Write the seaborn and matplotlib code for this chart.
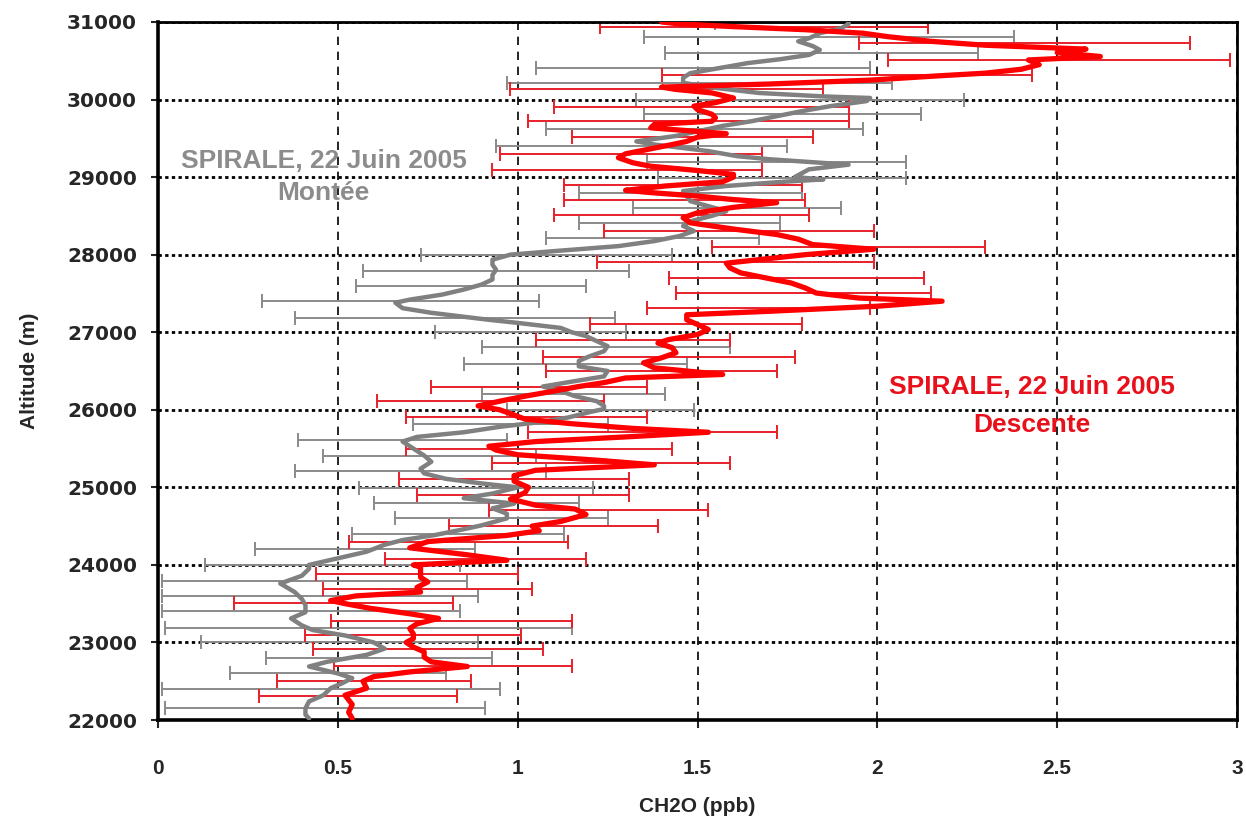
import matplotlib
matplotlib.use("Agg")
import matplotlib.pyplot as plt
from matplotlib import font_manager
import seaborn as sns
import numpy as np

# ascent profile (Montée), altitude in m, CH2O in ppb
gray_alt = [22020, 22070, 22150, 22240, 22320, 22410, 22470, 22540, 22600, 22690,
            22750, 22840, 22920, 23000, 23090, 23160, 23220, 23310, 23390, 23480,
            23560, 23650, 23760, 23860, 23950, 24000, 24085, 24170, 24260, 24320,
            24385, 24450, 24510, 24600, 24660, 24730, 24790, 24860, 24920, 25000,
            25050, 25110, 25180, 25240, 25330, 25410, 25500, 25590, 25650, 25710,
            25780, 25840, 25900, 25970, 26010, 26050, 26110, 26175, 26240, 26300,
            26370, 26430, 26500, 26560, 26630, 26690, 26755, 26820, 26885, 26950,
            27000, 27055, 27120, 27160, 27200, 27250, 27310, 27380, 27420, 27485,
            27550, 27615, 27680, 27740, 27805, 27870, 27935, 28000, 28045, 28110,
            28175, 28240, 28305, 28370, 28430, 28500, 28560, 28625, 28690, 28755,
            28820, 28885, 28940, 28970, 29000, 29100, 29160, 29230, 29270, 29335,
            29380, 29420, 29460, 29530, 29590, 29660, 29720, 29785, 29850, 29915,
            29980, 30020, 30040, 30085, 30150, 30215, 30280, 30340, 30405, 30470,
            30520, 30575, 30640, 30690, 30750, 30790, 30855, 30920, 30975, 31000]
gray_val = [0.42, 0.41, 0.41, 0.42, 0.46, 0.48, 0.51, 0.54, 0.50, 0.42,
            0.47, 0.58, 0.63, 0.60, 0.52, 0.43, 0.40, 0.37, 0.41, 0.41,
            0.40, 0.38, 0.34, 0.40, 0.42, 0.42, 0.50, 0.58, 0.63, 0.68,
            0.77, 0.84, 0.90, 0.97, 0.97, 0.93, 0.99, 0.85, 0.93, 1.00,
            0.90, 0.80, 0.74, 0.73, 0.76, 0.74, 0.71, 0.68, 0.72, 0.85,
            0.95, 1.06, 1.14, 1.20, 1.24, 1.24, 1.22, 1.16, 1.12, 1.07,
            1.16, 1.24, 1.25, 1.17, 1.17, 1.20, 1.24, 1.25, 1.22, 1.19,
            1.15, 1.12, 1.00, 0.92, 0.85, 0.76, 0.68, 0.66, 0.70, 0.79,
            0.85, 0.90, 0.93, 0.93, 0.94, 0.93, 0.93, 0.98, 1.10, 1.28,
            1.38, 1.45, 1.49, 1.46, 1.48, 1.54, 1.58, 1.53, 1.48, 1.47,
            1.46, 1.58, 1.74, 1.85, 1.77, 1.81, 1.92, 1.70, 1.61, 1.53,
            1.45, 1.38, 1.33, 1.44, 1.50, 1.57, 1.65, 1.72, 1.79, 1.87,
            1.97, 1.98, 1.85, 1.67, 1.55, 1.46, 1.46, 1.48, 1.56, 1.64,
            1.73, 1.81, 1.84, 1.82, 1.78, 1.81, 1.84, 1.90, 1.92, 1.92]

# descent profile (Descente)
red_alt = [22020, 22100, 22200, 22320, 22410, 22500, 22560, 22620, 22690, 22750,
           22810, 22880, 22940, 23000, 23050, 23110, 23180, 23240, 23310, 23370,
           23440, 23500, 23540, 23600, 23650, 23710, 23780, 23840, 23900, 23970,
           24000, 24060, 24130, 24220, 24300, 24380, 24440, 24500, 24560, 24650,
           24720, 24770, 24850, 24930, 25000, 25080, 25150, 25220, 25290, 25350,
           25420, 25480, 25530, 25590, 25650, 25710, 25760, 25820, 25880, 25950,
           26000, 26050, 26110, 26175, 26240, 26300, 26350, 26410, 26455, 26540,
           26605, 26670, 26735, 26800, 26860, 26905, 26970, 27035, 27100, 27160,
           27225, 27270, 27335, 27400, 27440, 27505, 27570, 27635, 27700, 27765,
           27830, 27890, 27935, 28000, 28070, 28130, 28200, 28260, 28330, 28370,
           28410, 28475, 28540, 28610, 28670, 28710, 28755, 28800, 28830, 28885,
           28940, 29000, 29035, 29085, 29140, 29185, 29250, 29300, 29355, 29420,
           29460, 29515, 29560, 29600, 29635, 29680, 29720, 29765, 29810, 29870,
           29915, 29960, 30020, 30085, 30130, 30160, 30200, 30250, 30300, 30340,
           30390, 30450, 30510, 30555, 30605, 30650, 30700, 30750, 30810, 30855,
           30900, 30940, 30975, 31000]
red_val = [0.54, 0.53, 0.54, 0.52, 0.58, 0.57, 0.60, 0.70, 0.86, 0.76,
           0.74, 0.74, 0.71, 0.69, 0.71, 0.71, 0.70, 0.72, 0.78, 0.70,
           0.59, 0.52, 0.48, 0.55, 0.73, 0.72, 0.75, 0.73, 0.73, 0.73,
           0.71, 0.97, 0.86, 0.70, 0.75, 0.97, 1.06, 1.04, 1.12, 1.19,
           1.16, 1.05, 0.98, 1.02, 1.03, 0.99, 0.99, 1.05, 1.38, 1.22,
           1.00, 0.94, 0.92, 1.05, 1.30, 1.53, 1.32, 1.15, 1.02, 0.98,
           0.95, 0.89, 0.95, 1.02, 1.10, 1.17, 1.24, 1.30, 1.57, 1.38,
           1.35, 1.40, 1.44, 1.43, 1.39, 1.42, 1.50, 1.53, 1.50, 1.47,
           1.47, 1.70, 2.00, 2.18, 1.95, 1.83, 1.80, 1.76, 1.69, 1.62,
           1.59, 1.58, 1.67, 1.80, 1.99, 1.82, 1.78, 1.72, 1.60, 1.54,
           1.48, 1.46, 1.50, 1.60, 1.72, 1.60, 1.50, 1.37, 1.30, 1.41,
           1.57, 1.60, 1.60, 1.50, 1.37, 1.32, 1.28, 1.30, 1.36, 1.43,
           1.47, 1.50, 1.58, 1.47, 1.37, 1.38, 1.54, 1.55, 1.54, 1.50,
           1.49, 1.55, 1.60, 1.54, 1.44, 1.40, 1.70, 1.98, 2.15, 2.30,
           2.40, 2.45, 2.42, 2.62, 2.50, 2.58, 2.30, 2.15, 2.03, 1.96,
           1.80, 1.60, 1.45, 1.40]

# error bars: altitude, left end, right end
gray_err_alt = [22160, 22400, 22600, 22800, 23000, 23190, 23400, 23600, 23790, 24000,
                24200, 24400, 24610, 24800, 24990, 25210, 25400, 25615, 25820, 26000,
                26200, 26585, 26810, 27000, 27185, 27400, 27600, 27785, 28000, 28210,
                28410, 28605, 28800, 28990, 29195, 29400, 29615, 29810, 30000, 30215,
                30405, 30600, 30810, 30985]
gray_err_lo = [0.02, 0.01, 0.20, 0.30, 0.12, 0.02, 0.01, 0.01, 0.01, 0.13,
               0.27, 0.54, 0.66, 0.60, 0.56, 0.38, 0.46, 0.39, 0.71, 0.97,
               0.90, 0.85, 0.90, 0.77, 0.38, 0.29, 0.55, 0.57, 0.73, 1.08,
               1.17, 1.32, 1.17, 1.39, 1.36, 0.94, 1.08, 1.35, 1.33, 0.97,
               1.05, 1.41, 1.35, 1.55]
gray_err_hi = [0.91, 0.95, 0.80, 0.93, 0.89, 1.15, 0.84, 0.89, 0.86, 0.84,
               0.88, 1.13, 1.25, 1.17, 1.21, 1.08, 1.05, 0.97, 1.25, 1.49,
               1.41, 1.47, 1.59, 1.30, 1.27, 1.06, 1.19, 1.31, 1.43, 1.67,
               1.73, 1.90, 1.79, 2.08, 2.08, 1.75, 1.96, 2.12, 2.24, 2.04,
               1.98, 2.28, 2.38, 2.14]

red_err_alt = [22315, 22500, 22690, 22910, 23090, 23280, 23510, 23690, 23880, 24080,
               24300, 24505, 24705, 24900, 25110, 25310, 25500, 25710, 25905, 26110,
               26300, 26500, 26680, 26900, 27100, 27310, 27505, 27700, 27905, 28100,
               28305, 28510, 28700, 28900, 29085, 29300, 29515, 29720, 29900, 30130,
               30310, 30505, 30725, 30940]
red_err_lo = [0.28, 0.33, 0.49, 0.43, 0.41, 0.48, 0.21, 0.46, 0.44, 0.63,
              0.53, 0.81, 0.92, 0.72, 0.67, 0.93, 0.69, 1.03, 0.69, 0.61,
              0.76, 1.08, 1.07, 1.05, 1.20, 1.36, 1.44, 1.42, 1.22, 1.54,
              1.24, 1.10, 1.13, 1.13, 0.93, 0.95, 1.15, 1.03, 1.10, 0.98,
              1.40, 2.03, 1.95, 1.23]
red_err_hi = [0.83, 0.87, 1.15, 1.07, 1.01, 1.15, 0.82, 1.04, 1.00, 1.19,
              1.14, 1.39, 1.53, 1.31, 1.31, 1.59, 1.43, 1.72, 1.36, 1.24,
              1.36, 1.72, 1.77, 1.59, 1.79, 1.98, 2.15, 2.13, 1.99, 2.30,
              1.99, 1.81, 1.80, 1.79, 1.68, 1.68, 1.82, 1.92, 1.92, 1.85,
              2.43, 2.98, 2.87, 2.14]

x_ticks = [0, 0.5, 1, 1.5, 2, 2.5, 3]
x_ticklabels = ["0", "0.5", "1", "1.5", "2", "2.5", "3"]
y_ticks = list(range(22000, 31001, 1000))

GRAY = "#808080"
RED = "#ff0000"

installed = {f.name for f in font_manager.fontManager.ttflist}
narrow = "Liberation Sans Narrow" if "Liberation Sans Narrow" in installed else "Liberation Sans"

sns.set_style("white")
plt.rcParams["font.family"] = ["Liberation Sans", "DejaVu Sans"]

fig = plt.figure(figsize=(12.46, 8.32), dpi=100)
ax = fig.add_axes([0.1268, 0.1346, 0.8660, 0.8390])


def draw_errbars(alt, lo, hi, color):
    lo = np.array(lo)
    hi = np.array(hi)
    mid = (lo + hi) / 2
    half = (hi - lo) / 2
    ax.errorbar(mid, alt, xerr=half, fmt="none", ecolor=color,
                elinewidth=1.4, capsize=5, capthick=1.4, zorder=2)


draw_errbars(gray_err_alt, gray_err_lo, gray_err_hi, "#8a8a8a")
draw_errbars(red_err_alt, red_err_lo, red_err_hi, "#e8202a")

sns.lineplot(x=gray_val, y=gray_alt, sort=False, estimator=None,
             color=GRAY, lw=3.2, ax=ax, zorder=3)
sns.lineplot(x=red_val, y=red_alt, sort=False, estimator=None,
             color=RED, lw=3.8, ax=ax, zorder=4)

ax.set_xlim(0, 3)
ax.set_ylim(22000, 31000)
ax.set_xticks(x_ticks)
ax.set_xticklabels(x_ticklabels)
ax.set_yticks(y_ticks)
ax.set_yticklabels([str(v) for v in y_ticks])

# grid: long dashes vertically, dotted horizontally
ax.set_axisbelow(True)
ax.xaxis.grid(True, color="black", lw=1.2, linestyle=(0, (5, 4)))
ax.yaxis.grid(True, color="black", lw=2.0, linestyle=(0, (1.2, 1.2)))

for side in ["left", "bottom"]:
    ax.spines[side].set_linewidth(2.6)
for side in ["top", "right"]:
    ax.spines[side].set_linewidth(2.0)
for sp in ax.spines.values():
    sp.set_color("black")

ax.tick_params(axis="x", direction="out", length=6, width=1.5, pad=22, bottom=True)
ax.tick_params(axis="y", direction="out", length=5, width=1.5, pad=10, left=True)
for t in ax.get_xticklabels():
    t.set_family([narrow, "DejaVu Sans"])
    t.set_fontsize(15)
    t.set_fontweight("bold")
for t in ax.get_yticklabels():
    t.set_family(["DejaVu Sans"])
    t.set_fontsize(14.5)
    t.set_fontweight("bold")

ax.set_xlabel("CH2O (ppb)", fontsize=15, fontweight="bold", labelpad=14,
              family=[narrow, "DejaVu Sans"])
ax.set_ylabel("Altitude (m)", fontsize=15, fontweight="bold", labelpad=20,
              family=[narrow, "DejaVu Sans"])

txt_kw = dict(ha="center", va="center", fontsize=19, fontweight="bold",
              family=[narrow, "DejaVu Sans"])
ax.text(0.46, 29210, "SPIRALE, 22 Juin 2005", color="#8c8c8c", **txt_kw)
ax.text(0.46, 28790, "Montée", color="#8c8c8c", **txt_kw)
ax.text(2.43, 26300, "SPIRALE, 22 Juin 2005", color="#e8101a", **txt_kw)
ax.text(2.43, 25810, "Descente", color="#e8101a", **txt_kw)

fig.savefig("out.png", dpi=100)
